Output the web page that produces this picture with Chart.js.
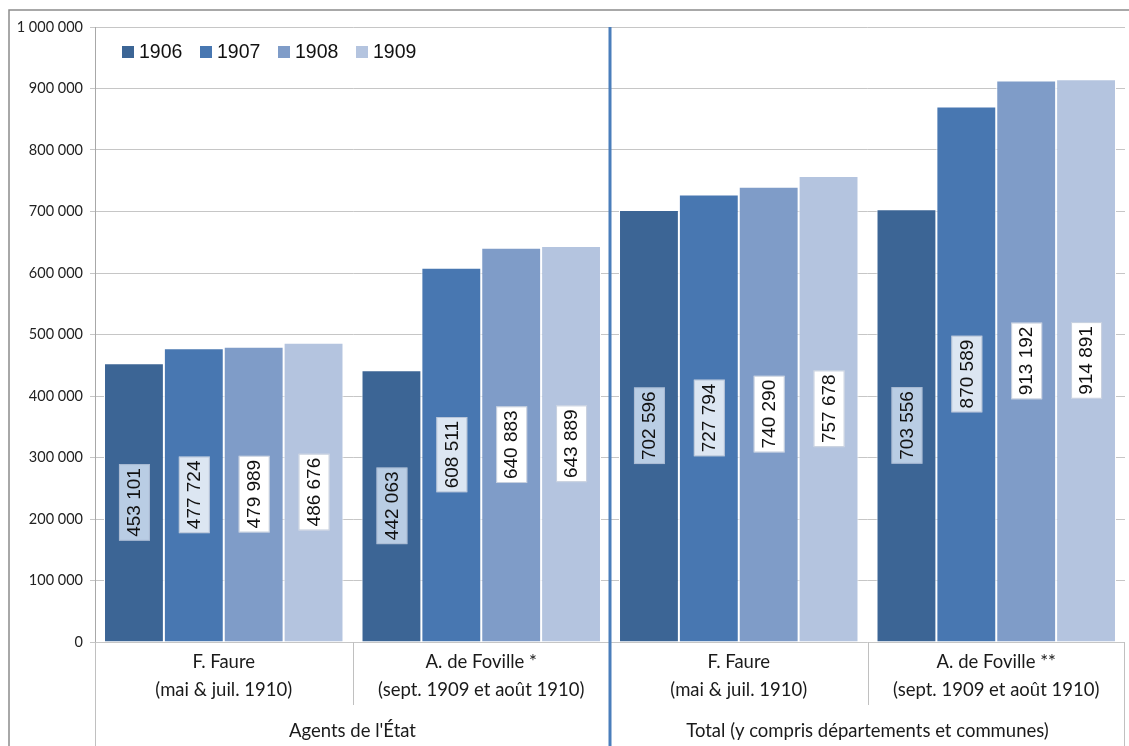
<!DOCTYPE html>
<html><head><meta charset="utf-8">
<script src="https://cdn.jsdelivr.net/npm/chart.js@4/dist/chart.umd.min.js"></script>
<style>html,body{margin:0;padding:0;background:#fff;}#wrap{width:1129px;height:746px;}</style>
</head><body><div id="wrap"><canvas id="c" width="1129" height="746"></canvas></div>
<script>
const categories = [["F. Faure","(mai & juil. 1910)"],["A. de Foville *","(sept. 1909 et août 1910)"],["F. Faure","(mai & juil. 1910)"],["A. de Foville **","(sept. 1909 et août 1910)"]];
const groups = ["Agents de l'État","Total (y compris départements et communes)"];
const seriesNames = ["1906","1907","1908","1909"];
const v1906 = [453101, 442063, 702596, 703556];
const v1907 = [477724, 608511, 727794, 870589];
const v1908 = [479989, 640883, 740290, 913192];
const v1909 = [486676, 643889, 757678, 914891];
const colors = ["#3c6595","#4877b1","#7f9cc8","#b4c4df"];
const labelBg = ["#b9cde4","#dce6f2","#ffffff","#ffffff"];

const fmt = v => String(v).replace(/\B(?=(\d{3})+(?!\d))/g,' ');
const values = [v1906,v1907,v1908,v1909];

const deco = {
  id:'deco',
  afterDatasetsDraw(chart){
    const ctx = chart.ctx;
    chart.data.datasets.forEach((ds,di)=>{
      const meta = chart.getDatasetMeta(di);
      meta.data.forEach((bar,i)=>{
        const cy = (bar.y + bar.base)/2;
        const txt = fmt(ds.data[i]);
        ctx.save();
        ctx.translate(bar.x, cy);
        ctx.rotate(-Math.PI/2);
        ctx.font = '19px "Liberation Sans", Arial, sans-serif';
        const w = ctx.measureText(txt).width;
        ctx.fillStyle = labelBg[di];
        ctx.fillRect(-w/2-4, -15, w+8, 31);
        ctx.strokeStyle = 'rgba(160,175,200,0.6)';
        ctx.lineWidth = 1;
        ctx.strokeRect(-w/2-4+0.5, -15+0.5, w+7, 30);
        ctx.fillStyle = '#111';
        ctx.textAlign = 'center'; ctx.textBaseline = 'middle';
        ctx.fillText(txt, 0, 1);
        ctx.restore();
      });
    });
  },
  afterDraw(chart){
    const ctx = chart.ctx, ca = chart.chartArea, xs = chart.scales.x;
    const H = chart.height, W = chart.width;
    ctx.save();
    ctx.strokeStyle = '#8c8c8c'; ctx.lineWidth = 1.5;
    ctx.beginPath(); ctx.moveTo(9, H); ctx.lineTo(9, 10); ctx.lineTo(W, 10); ctx.stroke();
    ctx.strokeStyle = '#c0c0c0'; ctx.lineWidth = 1;
    const n = categories.length;
    const centers = categories.map((c,i)=>xs.getPixelForValue(i));
    const half = (centers[1]-centers[0])/2;
    const bounds = [centers[0]-half];
    for(let i=0;i<n;i++) bounds.push(centers[i]+half);
    ctx.beginPath();
    ctx.moveTo(Math.round(bounds[0])+0.5, ca.bottom); ctx.lineTo(Math.round(bounds[0])+0.5, H);
    ctx.moveTo(Math.round(bounds[n])-0.5, ca.bottom); ctx.lineTo(Math.round(bounds[n])-0.5, H);
    ctx.moveTo(Math.round(bounds[1])+0.5, ca.bottom); ctx.lineTo(Math.round(bounds[1])+0.5, 705);
    ctx.moveTo(Math.round(bounds[3])+0.5, ca.bottom); ctx.lineTo(Math.round(bounds[3])+0.5, 705);
    ctx.stroke();
    ctx.fillStyle = '#1a1a1a';
    ctx.font = '18.5px Lato, "Open Sans", sans-serif';
    ctx.textAlign = 'center'; ctx.textBaseline = 'middle';
    categories.forEach((c,i)=>{
      ctx.fillText(c[0], centers[i], 662);
      ctx.fillText(c[1], centers[i], 690);
    });
    groups.forEach((g,gi)=>{
      const x = (bounds[gi*2] + bounds[gi*2+2])/2;
      ctx.fillText(g, x, 731);
    });
    ctx.strokeStyle = '#4a7ebb'; ctx.lineWidth = 3;
    ctx.beginPath(); ctx.moveTo(bounds[2], ca.top); ctx.lineTo(bounds[2], H); ctx.stroke();
    ctx.font = '19.5px "Liberation Sans", Arial, sans-serif';
    ctx.textAlign = 'left';
    seriesNames.forEach((s,i)=>{
      const x = 122 + i*78;
      ctx.fillStyle = colors[i];
      ctx.fillRect(x, 46, 12, 12);
      ctx.fillStyle = '#111';
      ctx.fillText(s, x+17, 53);
    });
    ctx.restore();
  }
};

new Chart(document.getElementById('c'), {
  type:'bar',
  data:{
    labels: categories.map((c,i)=>'c'+i),
    datasets: seriesNames.map((s,i)=>({
      label:s, data:values[i], backgroundColor:colors[i],
      borderColor:'#ffffff', borderWidth:{left:1,right:1,top:1,bottom:0},
      categoryPercentage:0.93, barPercentage:1
    }))
  },
  options:{
    responsive:false, animation:false,
    layout:{padding:{top:27,right:4,left:0,bottom:0}},
    plugins:{legend:{display:false},tooltip:{enabled:false}},
    scales:{
      x:{
        ticks:{display:false},
        grid:{display:false},
        border:{display:false},
        afterFit(s){ s.height = 104; }
      },
      y:{
        min:0,max:1000000,
        ticks:{stepSize:100000, color:'#222', padding:7,
          font:{family:'Lato, "Open Sans", sans-serif', size:14.5},
          callback:v=>fmt(v)},
        grid:{color:'#c6c6c6', tickLength:5, drawTicks:true},
        border:{display:true,color:'#a8a8a8'},
        afterFit(s){ s.width = 95; }
      }
    }
  },
  plugins:[deco]
});
</script>
</body></html>
